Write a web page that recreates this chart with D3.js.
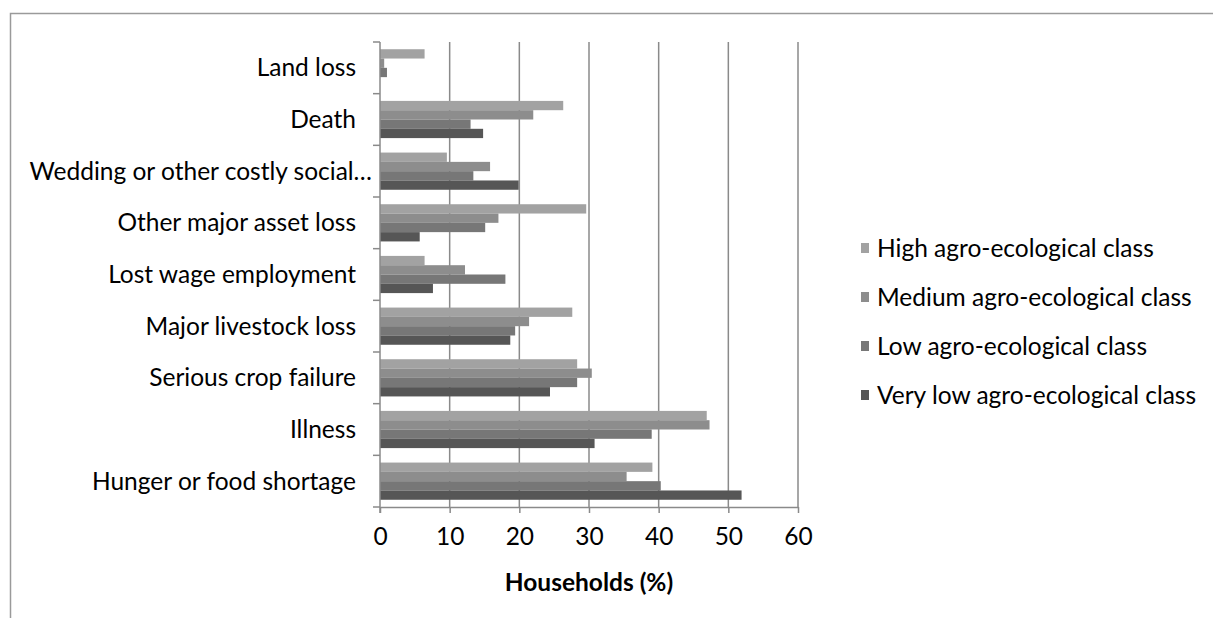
<!DOCTYPE html>
<html>
<head>
<meta charset="utf-8">
<script src="https://cdn.jsdelivr.net/npm/d3@7"></script>
<style>
  html, body { margin: 0; padding: 0; background: #fff; }
  svg { display: block; font-family: Lato, "Open Sans", sans-serif; }
</style>
</head>
<body>
<svg id="chart" width="1213" height="618"></svg>
<script>
// Shock categories, listed top to bottom
const categories = [
  "Land loss",
  "Death",
  "Wedding or other costly social…",
  "Other major asset loss",
  "Lost wage employment",
  "Major livestock loss",
  "Serious crop failure",
  "Illness",
  "Hunger or food shortage"
];

const seriesNames = [
  "High agro-ecological class",
  "Medium agro-ecological class",
  "Low agro-ecological class",
  "Very low agro-ecological class"
];

// Households (%) reporting each shock, per agro-ecological class
const highValues    = [6.4, 26.3,  9.6, 29.6,  6.4, 27.6, 28.3, 46.9, 39.1];
const mediumValues  = [0.6, 22.0, 15.8, 17.0, 12.2, 21.4, 30.4, 47.3, 35.4];
const lowValues     = [1.0, 13.0, 13.4, 15.1, 18.0, 19.4, 28.3, 39.0, 40.3];
const veryLowValues = [0.0, 14.8, 19.9,  5.7,  7.6, 18.7, 24.4, 30.8, 51.9];

const xTicks = [0, 10, 20, 30, 40, 50, 60];
const xTitle = "Households (%)";

const seriesValues = [highValues, mediumValues, lowValues, veryLowValues];
const colors = ["#a2a2a2", "#8d8d8d", "#777777", "#565656"];
const fontSize = 24.5;

const svg = d3.select("#chart");

// Outer frame
svg.append("path")
  .attr("d", "M10.5,640 L10.5,13.5 L1230,13.5")
  .attr("fill", "none")
  .attr("stroke", "#9a9a9a")
  .attr("stroke-width", 1.5);

const x = d3.scaleLinear().domain([0, 60]).range([380, 798]);
const plotTop = 42, plotBottom = 507;

const y0 = d3.scaleBand()
  .domain(categories)
  .range([plotTop, plotBottom])
  .paddingInner(0.28)
  .paddingOuter(0.14);

const y1 = d3.scaleBand()
  .domain(seriesNames)
  .range([0, y0.bandwidth()]);

const step = y0.step();

// Vertical gridlines
svg.append("g")
  .selectAll("line")
  .data(xTicks.filter(d => d > 0))
  .join("line")
  .attr("x1", d => x(d)).attr("x2", d => x(d))
  .attr("y1", plotTop).attr("y2", plotBottom)
  .attr("stroke", "#8a8a8a")
  .attr("stroke-width", 1.5);

// Bars
const groups = svg.append("g")
  .selectAll("g")
  .data(categories)
  .join("g")
  .attr("transform", d => `translate(0,${y0(d)})`);

groups.selectAll("rect")
  .data((c, i) => seriesNames.map((s, j) => ({ s, v: seriesValues[j][i], j })))
  .join("rect")
  .attr("x", x(0))
  .attr("y", d => y1(d.s))
  .attr("width", d => x(d.v) - x(0))
  .attr("height", y1.bandwidth())
  .attr("fill", d => colors[d.j]);

// Category axis line and boundary ticks
const boundaries = d3.range(categories.length + 1).map(i => plotTop + i * step);
svg.append("line")
  .attr("x1", x(0)).attr("x2", x(0))
  .attr("y1", plotTop).attr("y2", plotBottom + 6)
  .attr("stroke", "#8a8a8a").attr("stroke-width", 1.5);
svg.append("g")
  .selectAll("line")
  .data(boundaries)
  .join("line")
  .attr("x1", x(0) - 7).attr("x2", x(0))
  .attr("y1", d => d).attr("y2", d => d)
  .attr("stroke", "#8a8a8a").attr("stroke-width", 1.5);

// Value axis
const xAxis = svg.append("g")
  .attr("transform", `translate(0,${plotBottom})`)
  .call(d3.axisBottom(x).tickValues(xTicks).tickSize(6).tickSizeOuter(0).tickPadding(15));
xAxis.select(".domain").attr("stroke", "#8a8a8a").attr("stroke-width", 1.5);
xAxis.selectAll(".tick line").attr("stroke", "#8a8a8a").attr("stroke-width", 1.5);
xAxis.selectAll(".tick text")
  .attr("font-family", "Lato, 'Open Sans', sans-serif")
  .attr("font-size", fontSize)
  .attr("fill", "#000");

// Category labels, centred on each band
svg.append("g")
  .selectAll("text")
  .data(categories)
  .join("text")
  .attr("x", d => d.endsWith("…") ? 372 : 356)
  .attr("y", d => y0(d) + y0.bandwidth() / 2)
  .attr("dy", "0.35em")
  .attr("text-anchor", "end")
  .attr("font-size", fontSize)
  .attr("fill", "#000")
  .text(d => d);

// Axis title
svg.append("text")
  .attr("x", 589)
  .attr("y", 591)
  .attr("text-anchor", "middle")
  .attr("font-size", 24.5)
  .attr("font-weight", "bold")
  .attr("fill", "#000")
  .text(xTitle);

// Legend
const legend = svg.append("g")
  .selectAll("g")
  .data(seriesNames)
  .join("g")
  .attr("transform", (d, i) => `translate(861,${248 + i * 49})`);
legend.append("rect")
  .attr("x", 0).attr("y", -5)
  .attr("width", 8).attr("height", 10)
  .attr("fill", (d, i) => colors[i]);
legend.append("text")
  .attr("x", 16)
  .attr("dy", "0.35em")
  .attr("font-size", fontSize)
  .attr("fill", "#000")
  .text(d => d);
</script>
</body>
</html>
